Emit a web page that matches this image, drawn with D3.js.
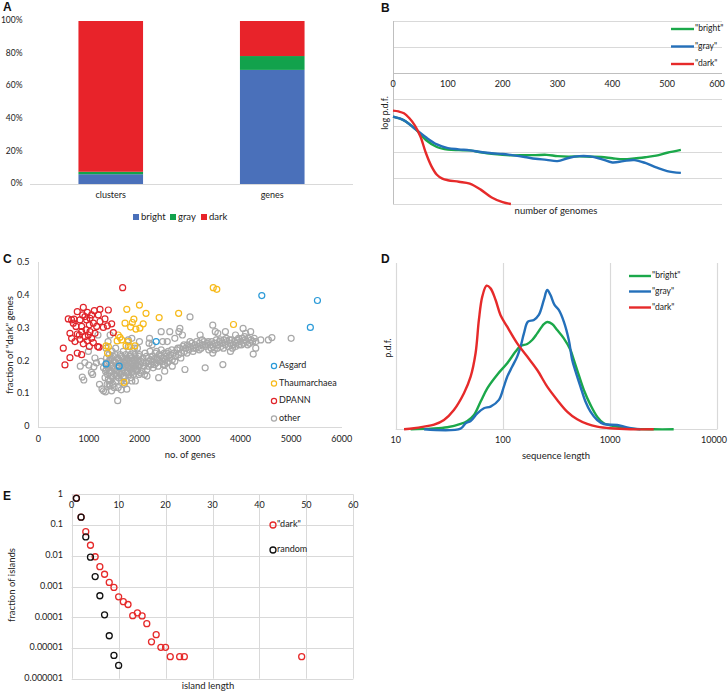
<!DOCTYPE html>
<html><head><meta charset="utf-8">
<script src="https://cdn.jsdelivr.net/npm/d3@7"></script>
<style>
html,body{margin:0;padding:0;background:#fff;}
svg{display:block;font-family:Lato,"Open Sans",sans-serif;}
</style></head><body>
<svg id="c" width="728" height="692"></svg>
<script>
// ---------- DATA ----------
// Panel A
const aCategories = ["clusters", "genes"];
const aSeries = ["bright", "gray", "dark"];
const aBright = [0.06, 0.70];
const aGray = [0.015, 0.085];
const aDark = [0.925, 0.215];
const aTicks = [0, 0.2, 0.4, 0.6, 0.8, 1.0];

// Panel B (log10 p.d.f. vs number of genomes)
const bX = [0,20,40,60,80,100,120,140,160,180,200,220,240,260,280,300,320,340,360,380,400,420,440,460,480,500,525];
const bBright = [-3.66,-3.8,-4.12,-4.55,-4.82,-4.92,-4.94,-4.95,-5.02,-5.08,-5.12,-5.14,-5.13,-5.13,-5.12,-5.17,-5.19,-5.18,-5.19,-5.2,-5.25,-5.29,-5.26,-5.21,-5.15,-5.04,-4.93];
const bGray = [-3.66,-3.8,-4.12,-4.45,-4.72,-4.86,-4.91,-4.95,-5.01,-5.06,-5.09,-5.14,-5.2,-5.27,-5.31,-5.36,-5.24,-5.17,-5.18,-5.28,-5.41,-5.36,-5.32,-5.43,-5.6,-5.74,-5.81];
const bDarkX = [0,10,20,30,40,50,60,70,80,90,100,120,140,160,180,200,215];
const bDark = [-3.43,-3.46,-3.53,-3.72,-4.0,-4.42,-5.05,-5.55,-5.88,-6.03,-6.09,-6.15,-6.22,-6.45,-6.75,-6.93,-7.0];
const bXTicks = [0,100,200,300,400,500,600];
const bYGrid = [0,-1,-2,-3,-4,-5,-6,-7];

// Panel C ([no. of genes, fraction dark])
const cAsgard = [[4420,0.40],[5520,0.385],[5380,0.303],[2330,0.26],[1340,0.192],[1600,0.185]];
const cThaum = [[3460,0.424],[3530,0.419],[1750,0.358],[2000,0.371],[2130,0.346],[2390,0.333],[2775,0.346],[3860,0.312],[1890,0.328],[1715,0.316],[1825,0.304],[1930,0.298],[2010,0.301],[2075,0.314],[1860,0.318],[1580,0.28],[1615,0.273],[1340,0.247],[1385,0.245],[1780,0.26],[1815,0.245],[1910,0.247],[1735,0.247],[1370,0.225],[1695,0.136],[1650,0.265],[1560,0.262]];
const cDPANN = [[494,0.24],[527,0.189],[626,0.211],[771,0.225],[857,0.22],[593,0.329],[659,0.326],[705,0.328],[771,0.351],[890,0.364],[969,0.349],[923,0.336],[1022,0.331],[1108,0.354],[1187,0.341],[1385,0.356],[1451,0.314],[1365,0.308],[1286,0.303],[1484,0.287],[1668,0.424],[626,0.285],[659,0.27],[725,0.26],[811,0.28],[857,0.306],[943,0.296],[1009,0.311],[1088,0.316],[1154,0.306],[1220,0.321],[1121,0.285],[1055,0.27],[969,0.263],[890,0.253],[1088,0.257],[1174,0.245],[1009,0.245],[824,0.267],[745,0.306],[824,0.326],[956,0.326],[1055,0.341],[877,0.341],[1200,0.243],[923,0.275],[989,0.28],[771,0.283],[692,0.316],[1220,0.358],[1318,0.329],[1022,0.29],[857,0.29]];
const cOther = [
[1320,0.15],[1330,0.17],[1340,0.19],[1350,0.21],[1360,0.13],[1370,0.16],[1380,0.18],[1390,0.2],[1400,0.22],[1410,0.14],[1420,0.125],[1430,0.17],[1440,0.19],[1450,0.21],[1460,0.23],[1470,0.15],[1480,0.13],[1490,0.18],[1500,0.2],[1510,0.16],[1520,0.22],[1530,0.24],[1540,0.14],[1550,0.17],[1560,0.19],[1570,0.21],[1580,0.12],[1590,0.15],[1600,0.18],[1610,0.2],[1620,0.22],[1630,0.16],[1640,0.14],[1650,0.17],[1660,0.19],[1670,0.21],[1680,0.23],[1690,0.15],[1700,0.18],[1710,0.2],[1720,0.165],[1730,0.22],[1740,0.14],[1750,0.19],[1760,0.21],[1770,0.17],[1780,0.245],[1790,0.16],[1800,0.2],[1810,0.18],[1820,0.22],[1830,0.15],[1840,0.19],[1850,0.21],[1860,0.17],[1870,0.23],[1880,0.16],[1890,0.2],[1900,0.18],[1910,0.22],[1920,0.14],[1930,0.19],[1940,0.21],[1950,0.17],[1960,0.24],[1970,0.185],[1980,0.2],[1990,0.16],[2000,0.22],
[1345,0.175],[1365,0.195],[1385,0.145],[1405,0.165],[1425,0.205],[1445,0.155],[1465,0.185],[1485,0.215],[1505,0.175],[1525,0.195],[1545,0.155],[1565,0.185],[1585,0.205],[1605,0.165],[1625,0.195],[1645,0.215],[1665,0.175],[1685,0.155],[1705,0.195],[1725,0.185],[1745,0.205],[1765,0.165],[1785,0.185],[1805,0.215],[1825,0.175],[1845,0.165],[1865,0.195],[1885,0.185],[1905,0.205],[1925,0.175],[1945,0.195],[1965,0.175],[1985,0.215],
[2010,0.19],[2030,0.2],[2050,0.17],[2070,0.21],[2090,0.185],[2110,0.225],[2130,0.195],[2150,0.175],[2170,0.21],[2190,0.2],[2210,0.23],[2230,0.19],[2250,0.215],[2270,0.18],[2290,0.205],[2310,0.225],[2330,0.195],[2350,0.21],[2370,0.185],[2390,0.22],[2410,0.2],[2430,0.235],[2450,0.21],[2470,0.19],[2490,0.225],[2510,0.205],[2530,0.215],[2550,0.195],[2570,0.23],[2590,0.21],
[2020,0.165],[2060,0.195],[2100,0.16],[2140,0.215],[2180,0.185],[2220,0.205],[2260,0.2],[2300,0.19],[2340,0.23],[2380,0.205],[2420,0.215],[2460,0.2],[2500,0.19],[2540,0.225],[2580,0.2],
[2620,0.22],[2650,0.205],[2680,0.225],[2710,0.215],[2740,0.235],[2770,0.22],[2800,0.24],[2830,0.225],[2860,0.245],[2890,0.23],[2920,0.24],[2950,0.25],[2980,0.235],[3010,0.245],[3040,0.255],[3070,0.24],[3100,0.25],[3130,0.26],[3160,0.245],[3190,0.255],[3220,0.24],[3250,0.25],[3280,0.26],[3310,0.245],[3340,0.255],[3370,0.235],[3400,0.25],[3430,0.26],[3460,0.245],[3490,0.255],[3520,0.265],[3550,0.25],[3580,0.26],[3610,0.245],[3640,0.255],[3670,0.265],[3700,0.25],[3730,0.26],[3760,0.245],[3790,0.255],[3820,0.265],[3850,0.25],[3880,0.26],[3910,0.255],[3940,0.265],[3970,0.25],[4000,0.26],[4030,0.27],[4060,0.255],[4090,0.265],[4120,0.26],[4150,0.27],[4180,0.255],[4210,0.265],[4240,0.26],[4270,0.27],[4300,0.26],
[2640,0.235],[2700,0.2],[2760,0.24],[2820,0.21],[2880,0.25],[2940,0.225],[3000,0.26],[3060,0.23],[3120,0.24],[3180,0.235],[3240,0.265],[3300,0.25],[3360,0.26],[3420,0.24],[3480,0.235],[3540,0.24],[3600,0.265],[3660,0.24],[3720,0.27],[3780,0.265],[3840,0.24],[3900,0.245],[3960,0.27],[4020,0.25],[4080,0.275],[4140,0.25],
[830,0.185],[870,0.152],[900,0.143],[920,0.196],[990,0.23],[1000,0.188],[1050,0.166],[1075,0.16],[1100,0.183],[1120,0.21],[1150,0.195],[1180,0.28],[1210,0.13],[1260,0.116],[1290,0.11],[1330,0.107],[1570,0.08],[1640,0.113],[1290,0.18],[1240,0.2],[1380,0.26],[1420,0.28],[1340,0.24],[2380,0.15],[2430,0.29],[2600,0.29],[2780,0.29],[2800,0.3],[3000,0.335],[2900,0.175],[3300,0.18],[3650,0.19],[3450,0.31],[3500,0.29],[3700,0.29],[4050,0.3],[4200,0.29],[4250,0.222],[4550,0.265],[4620,0.272],[5000,0.27],[2190,0.255],[2250,0.25],[2200,0.27],[2000,0.26],[1850,0.27],[1780,0.265],[1900,0.24],[2460,0.26],[2550,0.26],[2700,0.27],[2850,0.28],[3200,0.28],[3550,0.285],[3900,0.28],[4100,0.285],[4300,0.24],[4400,0.265],[3800,0.23],[3450,0.225],[2650,0.185],[2500,0.17],[2150,0.155],[1850,0.14],[1700,0.13],[1750,0.115],[1500,0.12],[1450,0.11],[1400,0.13]
];
const cXTicks = [0,1000,2000,3000,4000,5000,6000];
const cYTicks = [0,0.1,0.2,0.3,0.4,0.5];

// Panel D ([sequence length, p.d.f.])
const dBright = [[13.8,0],[21.2,0.004],[30.3,0.012],[40.3,0.032],[46.6,0.05],[53.7,0.086],[62,0.167],[71.5,0.247],[88.5,0.329],[109.7,0.398],[131.2,0.468],[146.2,0.502],[168.6,0.514],[187.6,0.538],[209,0.578],[241,0.634],[259,0.646],[288,0.634],[321,0.598],[370,0.548],[427,0.478],[459,0.418],[493,0.357],[569,0.237],[656,0.147],[757,0.076],[873,0.036],[1161,0.016],[1546,0.004],[2551,0],[3918,0]];
const dGray = [[18.4,0],[40.3,0.004],[44.9,0.036],[50,0.05],[57.7,0.096],[66.5,0.127],[76.7,0.137],[91.8,0.177],[102.1,0.257],[109.7,0.317],[122.2,0.378],[136,0.438],[146.2,0.498],[157.1,0.578],[171.1,0.648],[194.5,0.659],[216.3,0.689],[241,0.779],[259,0.839],[278,0.809],[303,0.749],[332,0.719],[370,0.649],[412,0.538],[443,0.418],[476,0.349],[529,0.257],[589,0.167],[656,0.106],[757,0.056],[873,0.032],[1161,0.026],[1438,0.012],[1918,0]];
const dDark = [[11.96,0],[14.8,0.006],[18.4,0.016],[22.8,0.028],[28.2,0.056],[34.9,0.116],[43.3,0.217],[50,0.317],[55.6,0.458],[59.7,0.659],[64.2,0.799],[70.4,0.865],[76.7,0.849],[85.5,0.779],[95.1,0.687],[109.7,0.618],[136,0.518],[168.6,0.438],[209,0.357],[259,0.257],[321,0.177],[397,0.107],[493,0.06],[611,0.032],[757,0.016],[1007,0.006],[1546,0],[2551,0]];
const dXTicks = [10,100,1000,10000];

// Panel E ([island length, fraction of islands])
const eDark = [[1,0.75],[2,0.18],[3,0.061],[4,0.022],[5,0.0093],[6,0.0044],[7,0.0025],[8,0.00136],[9,0.00093],[10,0.00046],[11,0.00032],[12,0.00026],[13,0.000112],[14,0.000138],[15,0.00011],[16,0.0000617],[17,0.0000158],[18,0.000027],[19,0.0000105],[20,0.0000105],[21,0.0000052],[23,0.0000052],[24,0.0000052],[49,0.0000052]];
const eRandom = [[1,0.74],[2,0.18],[3,0.041],[4,0.009],[5,0.0021],[6,0.0005],[7,0.00012],[8,0.000025],[9,0.0000057],[10,0.0000027]];
const eXTicks = [0,10,20,30,40,50,60];
const eYTicks = [1,0.1,0.01,0.001,0.0001,0.00001,0.000001];
const eYLabels = ["1","0.1","0.01","0.001","0.0001","0.00001","0.000001"];

// ---------- STYLE ----------
const COL = {blueA:"#4A70BA", greenA:"#12A24C", redA:"#E8232A",
  green:"#1BA84A", blue:"#2470BA", red:"#E62A2A",
  asgard:"#2A9AD8", thaum:"#F7BA1A", dpann:"#E0242A", other:"#A8A8A8",
  grid:"#D9D9D9", axis:"#BFBFBF", text:"#222"};
const svg = d3.select("#c");
const FS = 9;

function panelLabel(t,x,y){
  svg.append("text").attr("x",x).attr("y",y).text(t)
    .attr("font-family","'Liberation Sans',Arial,sans-serif").attr("font-weight","bold")
    .attr("font-size",12).attr("fill","#111");
}
function txt(g,x,y,s,anchor,size){
  return g.append("text").attr("x",x).attr("y",y).text(s).attr("text-anchor",anchor||"start")
    .attr("font-size",size||FS).attr("fill",COL.text).attr("dominant-baseline","middle");
}

// ---------- PANEL A ----------
(function(){
  const g = svg.append("g");
  const x = d3.scaleBand().domain(aCategories).range([30,353]).paddingInner(0.6).paddingOuter(0.3);
  const y = d3.scaleLinear().domain([0,1]).range([184,21]);
  const stack = aCategories.map((c,i)=>({cat:c, bright:aBright[i], gray:aGray[i], dark:aDark[i]}));
  const series = d3.stack().keys(aSeries)(stack);
  const cols = {bright:COL.blueA, gray:COL.greenA, dark:COL.redA};
  series.forEach(s=>{
    g.selectAll(null).data(s).enter().append("rect")
      .attr("x",d=>x(d.data.cat)).attr("width",x.bandwidth())
      .attr("y",d=>y(d[1])).attr("height",d=>y(d[0])-y(d[1]))
      .attr("fill",cols[s.key]);
  });
  g.append("line").attr("x1",30).attr("x2",353).attr("y1",y(0)+0.5).attr("y2",y(0)+0.5).attr("stroke",COL.grid);
  aTicks.forEach(t=>txt(g,22.5,y(t),Math.round(t*100)+"%","end",8.5));
  aCategories.forEach(c=>txt(g,x(c)+x.bandwidth()/2,196,c,"middle"));
  const leg = [["bright",133],["gray",170],["dark",201]];
  leg.forEach(([k,lx])=>{
    g.append("rect").attr("x",lx).attr("y",214).attr("width",6).attr("height",6).attr("fill",cols[k]);
    txt(g,lx+8,217.5,k,"start",9.5);
  });
  panelLabel("A",3,11);
})();

// ---------- PANEL B ----------
(function(){
  const g = svg.append("g");
  const x = d3.scaleLinear().domain([0,600]).range([393,722]);
  const y = d3.scaleLinear().domain([0,-7]).range([21,204]);
  bYGrid.forEach(v=>{
    g.append("line").attr("x1",393).attr("x2",722).attr("y1",Math.round(y(v))+0.5).attr("y2",Math.round(y(v))+0.5)
      .attr("stroke", v===-2?COL.axis:COL.grid);
  });
  g.append("line").attr("x1",393.5).attr("x2",393.5).attr("y1",21).attr("y2",204).attr("stroke",COL.axis);
  bXTicks.forEach(t=>txt(g,Math.min(x(t),717),84.5,String(t),"middle"));
  const line = d3.line().x(d=>x(d[0])).y(d=>y(d[1])).curve(d3.curveCatmullRom.alpha(0.5));
  const ser = [[bX.map((v,i)=>[v,bBright[i]]),COL.green],[bX.map((v,i)=>[v,bGray[i]]),COL.blue],[bDarkX.map((v,i)=>[v,bDark[i]]),COL.red]];
  ser.forEach(([d,c])=>g.append("path").attr("d",line(d)).attr("fill","none").attr("stroke",c).attr("stroke-width",2.4));
  const leg = [["\"bright\"",COL.green,29],["\"gray\"",COL.blue,46.5],["\"dark\"",COL.red,64]];
  leg.forEach(([t,c,ly])=>{
    g.append("line").attr("x1",671).attr("x2",694).attr("y1",ly).attr("y2",ly).attr("stroke",c).attr("stroke-width",2.4);
    txt(g,695,ly,t,"start",8.5);
  });
  txt(g,0,0,"log p.d.f.","middle").attr("transform","translate(386,113) rotate(-90)").attr("x",0).attr("y",0);
  txt(g,556,212,"number of genomes","middle",9.5);
  panelLabel("B",381,12);
})();

// ---------- PANEL C ----------
(function(){
  const g = svg.append("g");
  const x = d3.scaleLinear().domain([0,6000]).range([38.3,341.7]);
  const y = d3.scaleLinear().domain([0,0.5]).range([427,262.7]);
  g.append("line").attr("x1",38.5).attr("x2",38.5).attr("y1",262).attr("y2",427).attr("stroke",COL.grid);
  g.append("line").attr("x1",38).attr("x2",342).attr("y1",427.5).attr("y2",427.5).attr("stroke",COL.grid);
  cYTicks.forEach(t=>txt(g,29.5,y(t),String(t),"end"));
  cXTicks.forEach(t=>txt(g,x(t),440,String(t),"middle"));
  function pts(data,c){
    g.selectAll(null).data(data).enter().append("circle")
      .attr("cx",d=>x(d[0])).attr("cy",d=>y(d[1])).attr("r",3)
      .attr("fill","none").attr("stroke",c).attr("stroke-width",1.2);
  }
  pts(cOther,COL.other); pts(cThaum,COL.thaum); pts(cAsgard,COL.asgard); pts(cDPANN,COL.dpann);
  const leg = [["Asgard",COL.asgard,366],["Thaumarchaea",COL.thaum,383.5],["DPANN",COL.dpann,401],["other",COL.other,418.5]];
  leg.forEach(([t,c,ly])=>{
    g.append("circle").attr("cx",274).attr("cy",ly).attr("r",2.6).attr("fill","none").attr("stroke",c).attr("stroke-width",1.2);
    txt(g,279,ly,t,"start",9);
  });
  txt(g,0,0,"fraction of \"dark\" genes","middle",9.5).attr("transform","translate(11,345) rotate(-90)");
  txt(g,190,456,"no. of genes","middle",9.5);
  panelLabel("C",3,263);
})();

// ---------- PANEL D ----------
(function(){
  const g = svg.append("g");
  const x = d3.scaleLog().domain([10,10000]).range([395.7,717.3]);
  const y = d3.scaleLinear().domain([0,1]).range([429.3,263.3]);
  dXTicks.forEach(t=>{
    g.append("line").attr("x1",Math.round(x(t))+0.5).attr("x2",Math.round(x(t))+0.5).attr("y1",263).attr("y2",429.3).attr("stroke",COL.grid).attr("stroke-width",1.2);
  });
  g.append("line").attr("x1",395.7).attr("x2",717.3).attr("y1",429.5).attr("y2",429.5).attr("stroke",COL.grid).attr("stroke-width",1.2);
  const line = d3.line().x(d=>x(d[0])).y(d=>y(d[1])).curve(d3.curveCatmullRom.alpha(0.5));
  [[dBright,COL.green],[dGray,COL.blue],[dDark,COL.red]].forEach(([d,c])=>
    g.append("path").attr("d",line(d)).attr("fill","none").attr("stroke",c).attr("stroke-width",2.4));
  dXTicks.forEach(t=>txt(g,Math.min(x(t),714),441,String(t),"middle"));
  const leg = [["\"bright\"",COL.green,276],["\"gray\"",COL.blue,291.5],["\"dark\"",COL.red,307.5]];
  leg.forEach(([t,c,ly])=>{
    g.append("line").attr("x1",629).attr("x2",651).attr("y1",ly).attr("y2",ly).attr("stroke",c).attr("stroke-width",2.4);
    txt(g,652,ly,t,"start",8.5);
  });
  txt(g,0,0,"p.d.f.","middle").attr("transform","translate(389,348) rotate(-90)");
  txt(g,556,457,"sequence length","middle",9.5);
  panelLabel("D",381,263);
})();

// ---------- PANEL E ----------
(function(){
  const g = svg.append("g");
  const x = d3.scaleLinear().domain([0,60]).range([71.7,353.3]);
  const y = d3.scaleLog().domain([1,0.000001]).range([494.3,678.7]);
  eYTicks.forEach(t=>g.append("line").attr("x1",71.7).attr("x2",353.3).attr("y1",Math.round(y(t))+0.5).attr("y2",Math.round(y(t))+0.5).attr("stroke",COL.grid));
  eXTicks.forEach(t=>g.append("line").attr("x1",Math.round(x(t))+0.5).attr("x2",Math.round(x(t))+0.5).attr("y1",494.3).attr("y2",678.7).attr("stroke",COL.grid));
  eYTicks.forEach((t,i)=>txt(g,63,y(t),eYLabels[i],"end"));
  eXTicks.forEach(t=>txt(g,x(t),506,String(t),"middle"));
  function pts(data,c){
    g.selectAll(null).data(data).enter().append("circle")
      .attr("cx",d=>x(d[0])).attr("cy",d=>y(d[1])).attr("r",3)
      .attr("fill","none").attr("stroke",c).attr("stroke-width",1.3);
  }
  pts(eDark,COL.red); pts(eRandom,"#111");
  g.append("circle").attr("cx",273).attr("cy",525).attr("r",3).attr("fill","none").attr("stroke",COL.red).attr("stroke-width",1.3);
  txt(g,277,525,"\"dark\"","start",9);
  g.append("circle").attr("cx",273).attr("cy",550).attr("r",3).attr("fill","none").attr("stroke","#111").attr("stroke-width",1.3);
  txt(g,277,550,"random","start",9);
  txt(g,0,0,"fraction of islands","middle",9.5).attr("transform","translate(13,585) rotate(-90)");
  txt(g,208,687,"island length","middle",9.5);
  panelLabel("E",3,500);
})();
</script>
</body></html>
